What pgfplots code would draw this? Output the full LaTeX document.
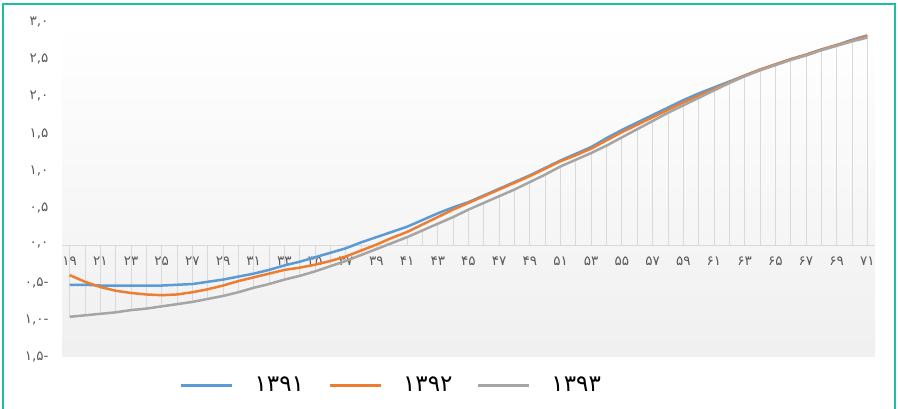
\documentclass[border=0pt]{standalone}
\usepackage{fontspec}
\usepackage{pgfplots}
\pgfplotsset{compat=1.18}
\usepackage{pgfplotstable}
\newfontfamily\pf{DejaVu Sans}
\definecolor{cblue}{HTML}{5B9BD5}
\definecolor{corange}{HTML}{ED7D31}
\definecolor{cgray}{HTML}{A5A5A5}
\definecolor{frameteal}{HTML}{1CBFA2}
\definecolor{ticktext}{HTML}{595959}
\pgfplotstableread{
x a b c
19 -0.53 -0.40 -0.96
20 -0.53 -0.49 -0.94
21 -0.54 -0.56 -0.92
22 -0.54 -0.61 -0.90
23 -0.54 -0.64 -0.87
24 -0.54 -0.66 -0.85
25 -0.54 -0.67 -0.82
26 -0.53 -0.66 -0.79
27 -0.52 -0.63 -0.76
28 -0.49 -0.59 -0.72
29 -0.46 -0.54 -0.68
30 -0.42 -0.48 -0.63
31 -0.38 -0.43 -0.57
32 -0.33 -0.38 -0.52
33 -0.27 -0.33 -0.46
34 -0.22 -0.30 -0.41
35 -0.16 -0.26 -0.35
36 -0.10 -0.21 -0.28
37 -0.04 -0.15 -0.21
38 0.04 -0.07 -0.13
39 0.11 0.01 -0.05
40 0.18 0.10 0.03
41 0.25 0.18 0.11
42 0.34 0.28 0.20
43 0.43 0.38 0.29
44 0.51 0.48 0.38
45 0.58 0.57 0.48
46 0.67 0.66 0.57
47 0.76 0.75 0.66
48 0.85 0.84 0.75
49 0.94 0.93 0.85
50 1.04 1.03 0.95
51 1.14 1.13 1.06
52 1.23 1.21 1.15
53 1.32 1.30 1.24
54 1.44 1.41 1.34
55 1.55 1.52 1.45
56 1.65 1.62 1.56
57 1.75 1.72 1.67
58 1.85 1.82 1.78
59 1.95 1.92 1.88
60 2.04 2.01 1.98
61 2.12 2.10 2.08
62 2.20 2.19 2.18
63 2.28 2.28 2.27
64 2.36 2.36 2.35
65 2.43 2.43 2.42
66 2.50 2.50 2.49
67 2.56 2.56 2.55
68 2.63 2.63 2.62
69 2.69 2.69 2.68
70 2.76 2.75 2.74
71 2.82 2.81 2.79
}\datatable
\begin{document}
\begin{tikzpicture}
\useasboundingbox (0,0) rectangle (898pt,409pt);
\draw[frameteal, line width=1.5pt] (3pt,-5pt) rectangle (895pt,405pt);
\begin{axis}[
  at={(62pt,52pt)}, anchor=south west,
  scale only axis, width=813pt, height=335pt,
  xmin=18.5, xmax=71.5, ymin=-1.5, ymax=3,
  axis x line*=middle, axis y line*=left,
  x axis line style={draw=black!15, line width=0.8pt, -},
  y axis line style={draw=none},
  axis background/.style={top color=white, bottom color=black!6},
  xtick={19,21,...,71},
  xticklabels={۱۹,۲۱,۲۳,۲۵,۲۷,۲۹,۳۱,۳۳,۳۵,۳۷,۳۹,۴۱,۴۳,۴۵,۴۷,۴۹,۵۱,۵۳,۵۵,۵۷,۵۹,۶۱,۶۳,۶۵,۶۷,۶۹,۷۱},
  ytick={-1.5,-1,-0.5,0,0.5,1,1.5,2,2.5,3},
  yticklabels={{۱,۵-},{۱,۰-},{۰,۵-},{۰,۰},{۰,۵},{۱,۰},{۱,۵},{۲,۰},{۲,۵},{۳,۰}},
  tick style={draw=none},
  xticklabel style={font=\pf\fontsize{13.5}{15}\selectfont, text=ticktext, yshift=-8pt},
  yticklabel style={font=\pf\fontsize{13.5}{15}\selectfont, text=ticktext, xshift=-10pt},
  legend style={draw=none, fill=none, legend columns=3,
    at={(0.405,-0.084)}, anchor=center,
    font=\pf\fontsize{23}{25}\selectfont,
    /tikz/every even column/.append style={column sep=22pt},
    /tikz/every odd column/.append style={column sep=19pt}},
  legend image code/.code={\draw[#1, line width=3pt] (0pt,0pt) -- (51pt,0pt);},
]
\addplot[ycomb, draw=black!15, line width=0.8pt, forget plot] table[x=x, y=c] {\datatable};
\addplot[cblue, line width=2.5pt] table[x=x, y=a] {\datatable};
\addlegendentry{۱۳۹۱}
\addplot[corange, line width=2.5pt] table[x=x, y=b] {\datatable};
\addlegendentry{۱۳۹۲}
\addplot[cgray, line width=2.5pt] table[x=x, y=c] {\datatable};
\addlegendentry{۱۳۹۳}
\end{axis}
\end{tikzpicture}
\end{document}
